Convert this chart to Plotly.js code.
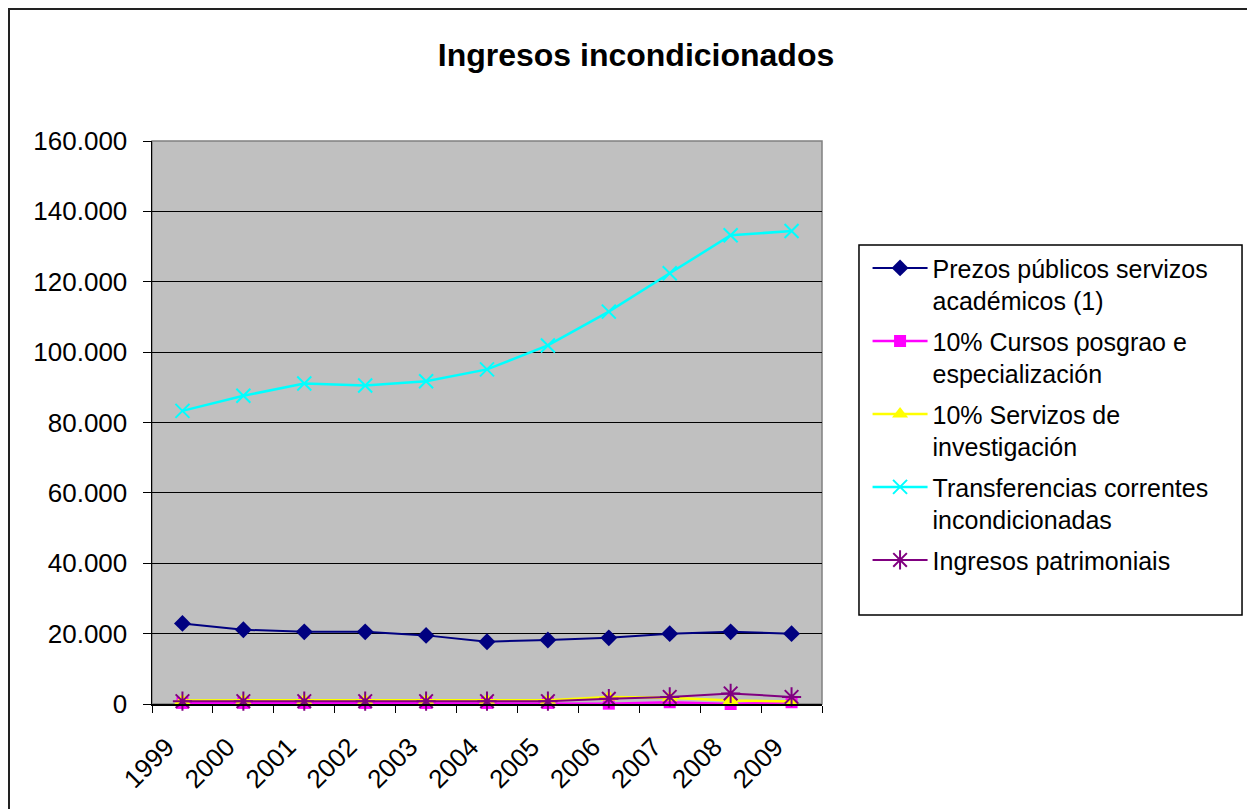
<!DOCTYPE html>
<html>
<head>
<meta charset="utf-8">
<script src="https://cdn.plot.ly/plotly-3.0.1.min.js"></script>
<style>
html,body{margin:0;padding:0;background:#fff;}
#chart{width:1247px;height:809px;}
</style>
</head>
<body>
<div id="chart"></div>
<script>
const years = ['1999','2000','2001','2002','2003','2004','2005','2006','2007','2008','2009'];
const seriesNames = [
  'Prezos públicos servizos<br>académicos (1)',
  '10% Cursos posgrao e<br>especialización',
  '10% Servizos de<br>investigación',
  'Transferencias correntes<br>incondicionadas',
  'Ingresos patrimoniais'
];
const prezosPublicos = [22900, 21100, 20500, 20500, 19500, 17700, 18200, 18800, 20000, 20500, 20000];
const cursosPosgrao = [300, 300, 300, 300, 300, 300, 300, 100, 500, 0, 500];
const servizosInvestigacion = [1000, 1100, 1100, 1100, 1100, 1100, 1100, 2000, 1800, 1000, 700];
const transferencias = [83300, 87600, 91100, 90500, 91700, 95100, 101900, 111500, 122400, 133200, 134400];
const patrimoniais = [800, 800, 800, 800, 800, 800, 800, 1500, 2000, 3000, 2000];
const yTicks = [0, 20000, 40000, 60000, 80000, 100000, 120000, 140000, 160000];

const FONT = 'Liberation Sans, Arial, sans-serif';

const traces = [
  {x: years, y: prezosPublicos, name: seriesNames[0], legendgroup: 'a', mode: 'lines+markers',
   line: {color: '#000080', width: 2}, marker: {symbol: 'diamond', size: 13, color: '#000080'}},
  {x: years, y: cursosPosgrao, name: seriesNames[1], legendgroup: 'b', mode: 'lines+markers', cliponaxis: false,
   line: {color: '#FF00FF', width: 2.5}, marker: {symbol: 'square', size: 12, color: '#FF00FF'}},
  {x: years, y: servizosInvestigacion, name: seriesNames[2], legendgroup: 'c', mode: 'lines+markers', cliponaxis: false,
   line: {color: '#FFFF00', width: 2.5}, marker: {symbol: 'triangle-up', size: 14, color: '#FFFF00'}},
  {x: years, y: transferencias, name: seriesNames[3], legendgroup: 'd', mode: 'lines+markers',
   line: {color: '#00FFFF', width: 2.5}, marker: {symbol: 'x-thin-open', size: 14, color: '#00FFFF', line: {color: '#00FFFF', width: 2}}},
  {x: years, y: patrimoniais, name: seriesNames[4], legendgroup: 'e', mode: 'lines+markers', cliponaxis: false,
   line: {color: '#800080', width: 2}, marker: {symbol: 'asterisk-open', size: 16, color: '#800080', line: {color: '#800080', width: 2}}}
];

const layout = {
  width: 1247, height: 809,
  margin: {l: 152, r: 425, t: 141, b: 105},
  paper_bgcolor: '#ffffff',
  plot_bgcolor: '#C0C0C0',
  separators: ',.',
  font: {family: FONT, color: '#000'},
  title: {text: '<b>Ingresos incondicionados</b>', font: {family: FONT, size: 32, color: '#000'},
          x: 636/1247, xref: 'container', xanchor: 'center', y: 1 - 55/809, yref: 'container', yanchor: 'middle'},
  xaxis: {type: 'category', range: [-0.5, 10.5], tickson: 'boundaries', ticks: 'outside', ticklen: 7,
          tickcolor: '#000', tickwidth: 1, showgrid: false, showline: true, linecolor: '#000', linewidth: 1.5,
          tickangle: -45, tickfont: {family: FONT, size: 26, color: '#000'}, ticklabelstandoff: 16,
          ticklabelshift: -16, zeroline: false, fixedrange: true},
  yaxis: {range: [0, 160000], tickvals: yTicks, tickformat: ',d', ticks: 'outside', ticklen: 8,
          tickcolor: '#000', showgrid: true, gridcolor: '#000', gridwidth: 1, showline: true,
          linecolor: '#000', linewidth: 1.5, zeroline: false, tickfont: {family: FONT, size: 26, color: '#000'},
          ticklabelstandoff: 10, fixedrange: true},
  showlegend: true,
  legend: {x: 1.068, y: 0.815, xanchor: 'left', yanchor: 'top', bgcolor: 'rgba(0,0,0,0)', borderwidth: 0,
           font: {family: FONT, size: 25, color: '#000'}, traceorder: 'grouped', tracegroupgap: 5,
           valign: 'top', itemwidth: 55},
  shapes: [
    {type: 'rect', xref: 'paper', yref: 'paper', x0: 0, x1: 1, y0: 0, y1: 1,
     line: {color: '#808080', width: 1.5}, fillcolor: 'rgba(0,0,0,0)', layer: 'below'},
    {type: 'rect', xref: 'paper', yref: 'paper', x0: 1.0552, x1: 1.6269, y0: 0.1581, y1: 0.8153,
     line: {color: '#000', width: 1.5}, fillcolor: 'rgba(0,0,0,0)'},
    {type: 'rect', xref: 'paper', yref: 'paper', x0: (9-152)/670, x1: (1260-152)/670, y0: (704-820)/563, y1: (704-9)/563,
     line: {color: '#222', width: 2}, fillcolor: 'rgba(0,0,0,0)'}
  ]
};

Plotly.newPlot('chart', traces, layout, {displayModeBar: false, staticPlot: true});
</script>
</body>
</html>
